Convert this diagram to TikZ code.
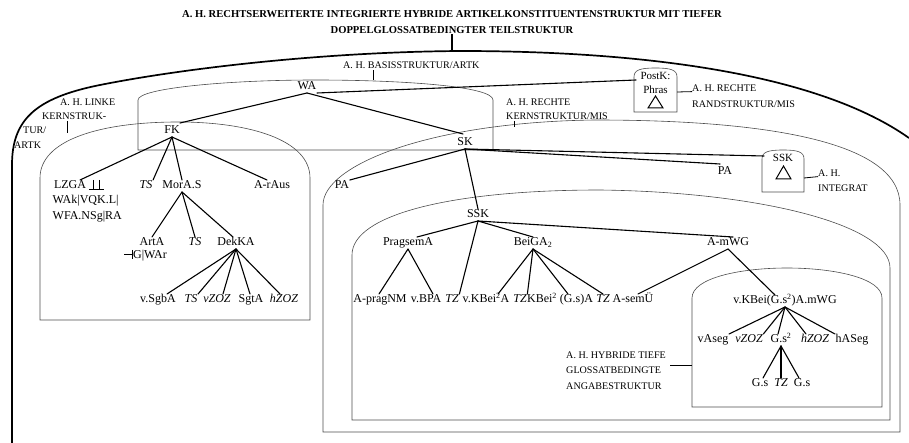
\documentclass[tikz,border=0pt]{standalone}
\usepackage{fontspec}
\setmainfont{Liberation Serif}
\usetikzlibrary{calc}
\begin{document}
\begin{tikzpicture}[x=1pt,y=-1pt,
 lbl/.style={inner sep=0.5pt, text height=8.2pt, text depth=2.4pt, font=\fontsize{12}{14}\selectfont},
 itl/.style={lbl, font=\fontsize{12}{14}\selectfont\itshape},
 smn/.style={inner sep=0.5pt, text height=7.6pt, text depth=2.2pt, font=\fontsize{11}{12}\selectfont},
 sml/.style={inner sep=0pt, anchor=west, font=\fontsize{10.1}{11}\selectfont},
 ttl/.style={inner sep=0pt, font=\fontsize{10.6}{12}\selectfont\bfseries},
 tline/.style={line width=1.1pt, line cap=round},
 boxl/.style={draw=black!70, line width=0.6pt},
 tickl/.style={line width=0.8pt},
 outer/.style={line width=1.7pt}]
\useasboundingbox (0,0) rectangle (909,443);

% title
\node[ttl] (t1) at (452,14) {A. H. RECHTSERWEITERTE INTEGRIERTE HYBRIDE ARTIKELKONSTITUENTENSTRUKTUR MIT TIEFER};
\node[ttl] (t2) at (452,30) {DOPPELGLOSSATBEDINGTER TEILSTRUKTUR};
\coordinate (tarc) at (452,51.5);
\draw[outer] (t2.south) -- (tarc);

% outer structure
\draw[outer] (12,443) -- (12,165) .. controls (12,120) and (35,98) .. (100,85)
  .. controls (180,69) and (320,52) .. (460,51) .. controls (650,51) and (820,75) .. (909,138);

% boxes
\draw[boxl] (138,150) -- (138,100) .. controls (138,88) and (230,80) .. (315,80)
  .. controls (400,80) and (493,86) .. (493,100) -- (493,150) -- cycle;
\draw[boxl] (40,320) -- (40,178) .. controls (40,140) and (100,122) .. (178,122)
  .. controls (250,122) and (310,140) .. (310,178) -- (310,320) -- cycle;
\draw[boxl] (323,432) -- (323,205) .. controls (323,165) and (430,122) .. (595,120)
  .. controls (760,120) and (900,140) .. (900,205) -- (900,432) -- cycle;
\draw[boxl] (352,420) -- (352,255) .. controls (352,215) and (450,190) .. (600,190)
  .. controls (760,192) and (890,225) .. (890,268) -- (890,420) -- cycle;
\draw[boxl] (692,407) -- (692,298) .. controls (692,278) and (740,268) .. (787,268)
  .. controls (834,268) and (882,278) .. (882,298) -- (882,407) -- cycle;
\draw[boxl] (634,112) -- (634,77) .. controls (634,70) and (640,68) .. (655.5,68)
  .. controls (671,68) and (677,70) .. (677,77) -- (677,112) -- cycle;
\draw[boxl] (762,192) -- (762,159) .. controls (762,152) and (768,150) .. (783,150)
  .. controls (798,150) and (804,152) .. (804,159) -- (804,192) -- cycle;

% small labels
\node[sml] (lbas) at (343,65) {A. H. BASISSTRUKTUR/ARTK};
\draw[tickl] (373,70) -- (373,80.5);
\node[sml] (lrk1) at (506,102) {A. H. RECHTE};
\node[sml] (lrk2) at (506,116) {KERNSTRUKTUR/MIS};
\draw[tickl] (514,121) -- (514,127.5);
\node[sml] (lrr1) at (692,88) {A. H. RECHTE};
\node[sml] (lrr2) at (692,104) {RANDSTRUKTUR/MIS};
\draw[tickl] (677,92) -- (lrr1.south west);
\node[sml] (lll1) at (60,102) {A. H. LINKE};
\node[sml] (lll2) at (42,116) {KERNSTRUK-};
\node[sml] (lll3) at (23,130) {TUR/};
\node[sml] (lll4) at (14,145) {ARTK};
\draw[tickl] (67,121) -- (67,133);
\node[sml] (lint1) at (818,173) {A. H.};
\node[sml] (lint2) at (818,188) {INTEGRAT};
\draw[tickl] (804,178) -- (lint1.south west);
\node[sml] (lhy1) at (566,355) {A. H. HYBRIDE TIEFE};
\node[sml] (lhy2) at (566,370) {GLOSSATBEDINGTE};
\node[sml] (lhy3) at (566,386) {ANGABESTRUKTUR};
\draw[tickl] (670,365) -- (692,365);

% PostK box content
\node[smn] (postk) at (655.5,77) {PostK:};
\node[smn] (phras) at (655.5,91) {Phras};
\draw[line width=1pt] (655.5,96) -- (648,108) -- (663,108) -- cycle;
\coordinate (pk) at (636,80);
% small SSK box
\node[smn] (ssks) at (783,159) {SSK};
\draw[line width=1pt] (783.5,166) -- (776,179) -- (791,179) -- cycle;
\coordinate (sks) at (764,156);

% main nodes
\node[lbl] (WA) at (307,87) {WA};
\node[lbl] (FK) at (172,131) {FK};
\node[lbl] (SK) at (465,143) {SK};
\node[lbl] (PAl) at (342,186) {PA};
\node[lbl] (PAr) at (725,172) {PA};
\node[lbl] (LZGA) at (70,186) {LZGA};
\draw[line width=0.9pt] (89,189.5) -- (104,189.5) (93.5,180) -- (93.5,189.5) (99.5,180) -- (99.5,189.5);
\node[lbl,anchor=west] (WAk) at (52,201) {WAk|VQK.L|};
\node[lbl,anchor=west] (WFA) at (52,217) {WFA.NSg|RA};
\node[itl] (TSa) at (146,186) {TS};
\node[lbl] (MorAS) at (182,186) {MorA.S};
\node[lbl] (ArAus) at (272,186) {A-rAus};
\node[lbl] (ArtA) at (152,243) {ArtA};
\node[lbl] (GWAr) at (150,256) {G|WAr};
\draw[line width=0.9pt] (124,254.5) -- (132,254.5) (132,250) -- (132,259);
\node[itl] (TSb) at (195,243) {TS};
\node[lbl] (DekKA) at (236,243) {DekKA};
\node[lbl] (vSgbA) at (158,300) {v.SgbA};
\node[itl] (TSc) at (191,300) {TS};
\node[itl] (vZOZa) at (217,300) {vZOZ};
\node[lbl] (SgtA) at (251,300) {SgtA};
\node[itl] (hZOZa) at (284,300) {hZOZ};

\node[lbl] (SSK) at (478,215) {SSK};
\node[lbl] (Prag) at (408,243) {PragsemA};
\node[lbl] (Bei) at (533,243) {BeiGA\textsubscript{2}};
\node[lbl] (AmWG) at (728,243) {A-mWG};
\node[lbl] (Aprag) at (380,300) {A-pragNM};
\node[lbl] (vBPA) at (426,300) {v.BPA};
\node[itl] (TZa) at (452,300) {TZ};
\node[lbl] (vKBA) at (486,300) {v.KBei\textsuperscript{2}A};
\node[itl] (TZb) at (520,300) {TZ};
\node[lbl] (KBG) at (560,300) {KBei\textsuperscript{2} (G.s)A};
\node[itl] (TZc) at (603,300) {TZ};
\node[lbl] (AsemU) at (633,300) {A-semÜ};
\node[lbl] (vKBei) at (785,301) {v.KBei(G.s\textsuperscript{2})A.mWG};
\node[lbl] (vAseg) at (713,340) {vAseg};
\node[itl] (vZOZb) at (749,340) {vZOZ};
\node[lbl] (Gs2) at (781,340) {G.s\textsuperscript{2}};
\node[itl] (hZOZb) at (815,340) {hZOZ};
\node[lbl] (hASeg) at (852,340) {hASeg};
\node[lbl] (Gsa) at (760,384) {G.s};
\node[itl] (TZd) at (781,384) {TZ};
\node[lbl] (Gsb) at (802,384) {G.s};

% connectors
\draw[tline] (WA.south) -- ($(FK.north)+(8,-2)$);
\draw[tline] (WA.south) -- ($(SK.north)+(-2,-3)$);
\draw[tline] (WA.south east) -- (pk);
\draw[tline] (FK.south) -- ($(LZGA.north)+(10,0)$);
\draw[tline] (FK.south) -- (TSa.north east);
\draw[tline] (FK.south) -- (MorAS.north);
\draw[tline] (FK.south) -- ($(ArAus.north)+(-5,0)$);
\draw[tline] (MorAS.south) -- (ArtA.north);
\draw[tline] (MorAS.south) -- (TSb.north);
\draw[tline] (MorAS.south) -- ($(DekKA.north)+(-3,0)$);
\draw[tline] (DekKA.south) -- ($(vSgbA.north)+(9,0)$);
\draw[tline] (DekKA.south) -- (TSc.north east);
\draw[tline] (DekKA.south) -- ($(vZOZa.north)+(6,0)$);
\draw[tline] (DekKA.south) -- ($(SgtA.north)+(-1,0)$);
\draw[tline] (DekKA.south) -- ($(hZOZa.north)+(-4,0)$);
\draw[tline] (SK.south) -- (PAl.north east);
\draw[tline] (SK.south) -- (SSK.north);
\draw[tline] (SK.south) -- ($(PAr.north)+(-5,-2)$);
\draw[tline] (SK.south) -- (sks);
\draw[tline] (SSK.south) -- ($(Prag.north)+(9,0)$);
\draw[tline] (SSK.south) -- (TZa.north east);
\draw[tline] (SSK.south) -- (Bei.north);
\draw[tline] (SSK.south) -- ($(AmWG.north)+(5,0)$);
\draw[tline] (Prag.south) -- ($(Aprag.north)+(-1,0)$);
\draw[tline] (Prag.south) -- ($(vBPA.north)+(7,0)$);
\draw[tline] (Bei.south) -- ($(vKBA.north)+(12,0)$);
\draw[tline] (Bei.south) -- (TZb.north east);
\draw[tline] (Bei.south) -- ($(KBG.north)+(8,0)$);
\draw[tline] (Bei.south) -- (TZc.north);
\draw[tline] (AmWG.south) -- ($(AsemU.north)+(5,0)$);
\draw[tline] (AmWG.south) -- ($(vKBei.north)+(-10,0)$);
\draw[tline] (vKBei.south) -- (vAseg.north east);
\draw[tline] (vKBei.south) -- (vZOZb.north east);
\draw[tline] (vKBei.south) -- ($(Gs2.north)+(-3,0)$);
\draw[tline] (vKBei.south) -- ($(hZOZb.north)+(-9,0)$);
\draw[tline] (vKBei.south) -- (hASeg.north west);
\draw[tline] (Gs2.south) -- ($(Gsa.north)+(3,0)$);
\draw[tline] (Gs2.south) -- (TZd.north);
\draw[tline] (Gs2.south) -- ($(Gsb.north)+(-3,0)$);
\end{tikzpicture}
\end{document}
